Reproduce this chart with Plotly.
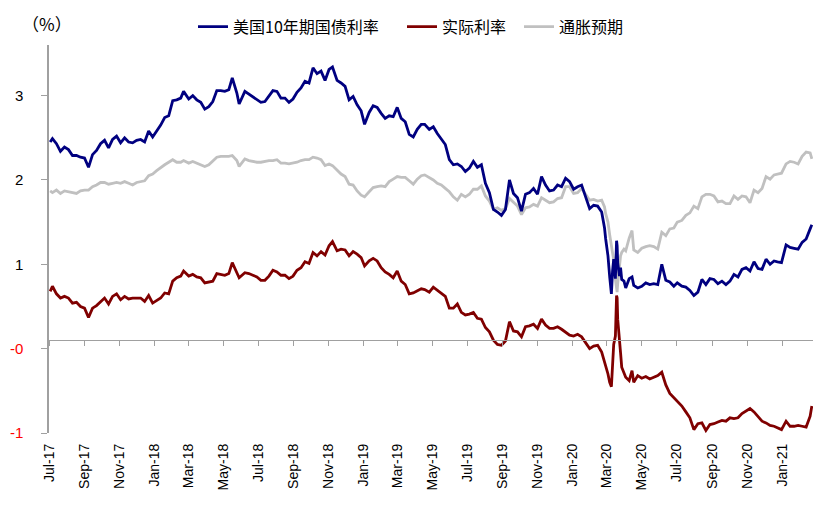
import plotly.graph_objects as go

# weekly-ish observations, daily around the March 2020 shock
dates = [
    "2017-07-03", "2017-07-07", "2017-07-14", "2017-07-21", "2017-07-28",
    "2017-08-04", "2017-08-11", "2017-08-18", "2017-08-25",
    "2017-09-01", "2017-09-08", "2017-09-15", "2017-09-22", "2017-09-29",
    "2017-10-06", "2017-10-13", "2017-10-20", "2017-10-27",
    "2017-11-03", "2017-11-10", "2017-11-17", "2017-11-24",
    "2017-12-01", "2017-12-08", "2017-12-15", "2017-12-22", "2017-12-29",
    "2018-01-05", "2018-01-12", "2018-01-19", "2018-01-26",
    "2018-02-02", "2018-02-09", "2018-02-16", "2018-02-21",
    "2018-03-02", "2018-03-09", "2018-03-16", "2018-03-23", "2018-03-30",
    "2018-04-06", "2018-04-13", "2018-04-20", "2018-04-27",
    "2018-05-04", "2018-05-11", "2018-05-17", "2018-05-25", "2018-05-29",
    "2018-06-08", "2018-06-15", "2018-06-22", "2018-06-29",
    "2018-07-06", "2018-07-13", "2018-07-20", "2018-07-27",
    "2018-08-03", "2018-08-10", "2018-08-17", "2018-08-24", "2018-08-31",
    "2018-09-07", "2018-09-14", "2018-09-21", "2018-09-28",
    "2018-10-05", "2018-10-12", "2018-10-19", "2018-10-26",
    "2018-11-02", "2018-11-08", "2018-11-16", "2018-11-23", "2018-11-30",
    "2018-12-07", "2018-12-14", "2018-12-21", "2018-12-28",
    "2019-01-03", "2019-01-11", "2019-01-18", "2019-01-25",
    "2019-02-01", "2019-02-08", "2019-02-15", "2019-02-22",
    "2019-03-01", "2019-03-08", "2019-03-15", "2019-03-22", "2019-03-29",
    "2019-04-05", "2019-04-12", "2019-04-18", "2019-04-26",
    "2019-05-03", "2019-05-10", "2019-05-17", "2019-05-24", "2019-05-31",
    "2019-06-07", "2019-06-14", "2019-06-21", "2019-06-28",
    "2019-07-05", "2019-07-12", "2019-07-19", "2019-07-26",
    "2019-08-02", "2019-08-09", "2019-08-16", "2019-08-23", "2019-08-30",
    "2019-09-06", "2019-09-13", "2019-09-20", "2019-09-27",
    "2019-10-04", "2019-10-11", "2019-10-18", "2019-10-25",
    "2019-11-01", "2019-11-08", "2019-11-15", "2019-11-22", "2019-11-29",
    "2019-12-06", "2019-12-13", "2019-12-20", "2019-12-27",
    "2020-01-03", "2020-01-10", "2020-01-17", "2020-01-24", "2020-01-31",
    "2020-02-07", "2020-02-14", "2020-02-21", "2020-02-26", "2020-02-28",
    "2020-03-03", "2020-03-06", "2020-03-09", "2020-03-11", "2020-03-13",
    "2020-03-16", "2020-03-18", "2020-03-19", "2020-03-20", "2020-03-23",
    "2020-03-25", "2020-03-27", "2020-03-31",
    "2020-04-03", "2020-04-09", "2020-04-14", "2020-04-17", "2020-04-24",
    "2020-05-01", "2020-05-08", "2020-05-15", "2020-05-22", "2020-05-29",
    "2020-06-05", "2020-06-12", "2020-06-19", "2020-06-26",
    "2020-07-02", "2020-07-10", "2020-07-17", "2020-07-24", "2020-07-31",
    "2020-08-07", "2020-08-14", "2020-08-21", "2020-08-28",
    "2020-09-04", "2020-09-11", "2020-09-18", "2020-09-25",
    "2020-10-02", "2020-10-09", "2020-10-16", "2020-10-23", "2020-10-30",
    "2020-11-06", "2020-11-13", "2020-11-20", "2020-11-27",
    "2020-12-04", "2020-12-11", "2020-12-18", "2020-12-24", "2020-12-31",
    "2021-01-08", "2021-01-15", "2021-01-22", "2021-01-29",
    "2021-02-05", "2021-02-12", "2021-02-19", "2021-02-22",
]

us10y = [
    2.35, 2.39, 2.33, 2.24, 2.29,
    2.26, 2.19, 2.19, 2.17,
    2.16, 2.05, 2.20, 2.25, 2.33,
    2.37, 2.28, 2.38, 2.42,
    2.34, 2.40, 2.35, 2.34,
    2.37, 2.38, 2.35, 2.48, 2.41,
    2.48, 2.55, 2.64, 2.66,
    2.84, 2.85, 2.87, 2.95,
    2.86, 2.90, 2.85, 2.82, 2.74,
    2.77, 2.83, 2.96, 2.96,
    2.95, 2.97, 3.11, 2.93, 2.80,
    2.95, 2.92, 2.89, 2.86,
    2.82, 2.83, 2.89, 2.96,
    2.95, 2.87, 2.87, 2.82, 2.86,
    2.94, 2.99, 3.07, 3.05,
    3.23, 3.16, 3.19, 3.08,
    3.21, 3.24, 3.08, 3.05, 3.01,
    2.85, 2.89, 2.79, 2.72,
    2.56, 2.70, 2.78, 2.76,
    2.69, 2.63, 2.66, 2.65,
    2.76, 2.63, 2.59, 2.44, 2.41,
    2.50, 2.56, 2.56, 2.50,
    2.53, 2.45, 2.39, 2.32, 2.14,
    2.08, 2.09, 2.06, 2.00,
    2.04, 2.12, 2.05, 2.08,
    1.86, 1.75, 1.55, 1.52, 1.48,
    1.55, 1.90, 1.74, 1.69,
    1.53, 1.73, 1.75, 1.80,
    1.73, 1.94, 1.84, 1.77, 1.78,
    1.84, 1.82, 1.92, 1.88,
    1.79, 1.82, 1.84, 1.70, 1.56,
    1.60, 1.59, 1.52, 1.33, 1.20,
    1.00, 0.75, 0.55, 0.82, 0.96,
    0.73, 1.18, 1.12, 0.92, 0.76,
    0.86, 0.72, 0.70,
    0.62, 0.73, 0.75, 0.65, 0.62,
    0.64, 0.68, 0.66, 0.67, 0.66,
    0.90, 0.71, 0.69, 0.64,
    0.68, 0.64, 0.63, 0.59, 0.53,
    0.57, 0.72, 0.66, 0.73,
    0.72, 0.67, 0.70, 0.66,
    0.70, 0.78, 0.75, 0.84, 0.86,
    0.82, 0.93, 0.85, 0.84,
    0.96, 0.90, 0.94, 0.93, 0.92,
    1.13, 1.10, 1.09, 1.08,
    1.16, 1.20, 1.32, 1.37,
]

real_rate = [
    0.58, 0.64, 0.55, 0.50, 0.52,
    0.50, 0.44, 0.45, 0.40,
    0.38, 0.27, 0.38, 0.41, 0.46,
    0.50, 0.43, 0.52, 0.55,
    0.48, 0.52, 0.49, 0.50,
    0.50, 0.50, 0.46, 0.53, 0.44,
    0.47, 0.50, 0.56, 0.55,
    0.70, 0.74, 0.76, 0.82,
    0.76, 0.78, 0.75, 0.74, 0.68,
    0.69, 0.70, 0.79, 0.78,
    0.77, 0.79, 0.92, 0.80, 0.74,
    0.80, 0.79, 0.77, 0.75,
    0.71, 0.71, 0.76, 0.83,
    0.81, 0.77, 0.77, 0.73, 0.76,
    0.83, 0.86, 0.93, 0.91,
    1.04, 1.00, 1.05, 1.01,
    1.12, 1.17, 1.06, 1.08, 1.07,
    1.00, 1.05, 1.02, 0.98,
    0.88, 0.94, 0.97, 0.94,
    0.86, 0.81, 0.78, 0.74,
    0.82, 0.70, 0.66, 0.55, 0.56,
    0.59, 0.61, 0.60, 0.57,
    0.63, 0.59, 0.55, 0.52, 0.38,
    0.38, 0.43, 0.33, 0.30,
    0.31, 0.33, 0.26, 0.25,
    0.15, 0.10, 0.00, -0.05, -0.06,
    -0.01, 0.22, 0.11, 0.10,
    0.04, 0.16, 0.17, 0.19,
    0.14, 0.25, 0.18, 0.14, 0.14,
    0.16, 0.13, 0.10, 0.06,
    0.05, 0.07, 0.04, -0.03, -0.10,
    -0.07, -0.06, -0.14, -0.25, -0.30,
    -0.40, -0.50, -0.55, -0.30, -0.05,
    0.05, 0.53, 0.50, 0.25, -0.07,
    -0.15, -0.32, -0.38,
    -0.44, -0.48, -0.36, -0.50, -0.42,
    -0.45, -0.43, -0.46, -0.44, -0.42,
    -0.38, -0.53, -0.63, -0.68,
    -0.72, -0.78, -0.85, -0.92, -1.06,
    -0.99, -0.98, -1.07, -1.00,
    -0.99, -0.97, -0.95, -0.96,
    -0.92, -0.93, -0.92, -0.87, -0.84,
    -0.81, -0.85, -0.90, -0.96,
    -0.98, -1.01, -1.02, -1.04, -1.06,
    -0.96, -1.02, -1.02, -1.01,
    -1.02, -1.03, -0.90, -0.78,
]

breakeven = [
    1.77, 1.75, 1.78, 1.74, 1.77,
    1.76, 1.75, 1.74, 1.77,
    1.78, 1.78, 1.82, 1.84, 1.87,
    1.87, 1.85, 1.86, 1.87,
    1.86, 1.88, 1.86, 1.84,
    1.87, 1.88, 1.89, 1.95, 1.97,
    2.01, 2.05, 2.08, 2.11,
    2.14, 2.11, 2.11, 2.13,
    2.10, 2.12, 2.10, 2.08, 2.06,
    2.08, 2.13, 2.17, 2.18,
    2.18, 2.18, 2.19, 2.13, 2.06,
    2.15, 2.13, 2.12, 2.11,
    2.11, 2.12, 2.13, 2.13,
    2.14, 2.10, 2.10, 2.09, 2.10,
    2.11, 2.13, 2.14, 2.14,
    2.17, 2.16, 2.14, 2.07,
    2.09, 2.07, 2.02, 1.97, 1.94,
    1.85, 1.84, 1.77, 1.72,
    1.70, 1.76, 1.81, 1.82,
    1.83, 1.82, 1.88, 1.91,
    1.94, 1.93, 1.93, 1.89, 1.85,
    1.91, 1.95, 1.96, 1.93,
    1.90, 1.86, 1.84, 1.80, 1.76,
    1.70, 1.66, 1.73, 1.70,
    1.73, 1.79, 1.79, 1.83,
    1.71, 1.65, 1.55, 1.57, 1.54,
    1.56, 1.68, 1.63, 1.59,
    1.49, 1.57, 1.58, 1.61,
    1.59, 1.69, 1.66, 1.63, 1.64,
    1.68, 1.69, 1.82, 1.82,
    1.74, 1.75, 1.80, 1.73, 1.66,
    1.67, 1.65, 1.66, 1.58, 1.50,
    1.40, 1.25, 1.10, 1.02, 0.95,
    0.72, 0.62, 0.57, 0.67, 0.85,
    1.00, 1.04, 1.08,
    1.06, 1.21, 1.30, 1.07, 1.04,
    1.09, 1.11, 1.12, 1.11, 1.08,
    1.28, 1.24, 1.32, 1.33,
    1.40, 1.42, 1.48, 1.51, 1.59,
    1.56, 1.70, 1.73, 1.73,
    1.71, 1.64, 1.65, 1.62,
    1.62, 1.71, 1.67, 1.71, 1.70,
    1.63, 1.78, 1.75, 1.80,
    1.94, 1.91, 1.96, 1.97, 1.98,
    2.09, 2.12, 2.11, 2.09,
    2.18, 2.23, 2.22, 2.15,
]

names = ["美国10年期国债利率", "实际利率", "通胀预期"]
colors = ["#000080", "#800000", "#C0C0C0"]
y_tickvals = [-1.1, -0.1, 0.9, 1.9, 2.9]
y_ticktext = ["-1", "-0", "1", "2", "3"]

axis_grey = "#A0A0A0"
tick_font = dict(family="Arial, Liberation Sans", size=14, color="black")

fig = go.Figure()

# grey first so it sits under the other two, red on the overlay axis so it sits on top
fig.add_trace(go.Scatter(x=dates, y=breakeven, name=names[2], mode="lines",
                         line=dict(color=colors[2], width=2.8), legend="legend3"))
fig.add_trace(go.Scatter(x=dates, y=us10y, name=names[0], mode="lines",
                         line=dict(color=colors[0], width=2.8), legend="legend"))
fig.add_trace(go.Scatter(x=dates, y=real_rate, name=names[1], mode="lines",
                         line=dict(color=colors[1], width=2.8), legend="legend2",
                         xaxis="x2"))

y_min, y_max = -1.1, 3.5
zero_pos = (0 - y_min) / (y_max - y_min)

ticktext = [
    f'<span style="color:red">{t}</span>' if t.startswith("-") else t
    for t in y_ticktext
]

x_range = ["2017-07-01", "2021-02-24"]

# the page body adds an 8px margin, so the figure is 8px smaller than the window
plot_left = 49
plot_w = 764

legend_style = dict(orientation="h", yanchor="middle", y=1.047, xanchor="left",
                    bgcolor="rgba(0,0,0,0)",
                    font=dict(family="Noto Sans CJK SC", size=16, color="black"))

fig.update_layout(
    width=821, height=506,
    margin=dict(l=41, r=16, t=37, b=81, autoexpand=False),
    plot_bgcolor="white", paper_bgcolor="white",
    showlegend=True,
    xaxis=dict(
        range=x_range, type="date",
        tick0="2017-07-01", dtick="M2", tickformat="%b-%y",
        tickangle=-90, ticks="", showline=False, showgrid=False, zeroline=False,
        tickfont=tick_font, ticklabelstandoff=7,
    ),
    xaxis2=dict(
        matches="x", overlaying="x", anchor="free", position=zero_pos,
        tick0="2017-07-01", dtick="M2", ticks="outside", ticklen=5,
        tickcolor=axis_grey, showticklabels=False, showline=True,
        linecolor=axis_grey, linewidth=1.2, showgrid=False, zeroline=False,
    ),
    yaxis=dict(
        range=[y_min, y_max], tickvals=y_tickvals, ticktext=ticktext,
        ticks="outside", ticklen=6, tickcolor=axis_grey,
        showline=True, linecolor=axis_grey, linewidth=1.5,
        showgrid=False, zeroline=True, zerolinecolor=axis_grey, zerolinewidth=1.2,
        tickfont=dict(family="Arial, Liberation Sans", size=15, color="black"),
        ticklabelstandoff=15,
    ),
    legend=dict(legend_style, x=(193 - plot_left) / plot_w),
    legend2=dict(legend_style, x=(402 - plot_left) / plot_w),
    legend3=dict(legend_style, x=(519 - plot_left) / plot_w),
    annotations=[dict(
        text="（%）", xref="paper", yref="paper", x=(20 - plot_left) / plot_w, y=1.055,
        xanchor="left", yanchor="middle", showarrow=False,
        font=dict(family="Noto Sans CJK SC", size=17, color="black"),
    )],
)

fig.write_html("out.html")
